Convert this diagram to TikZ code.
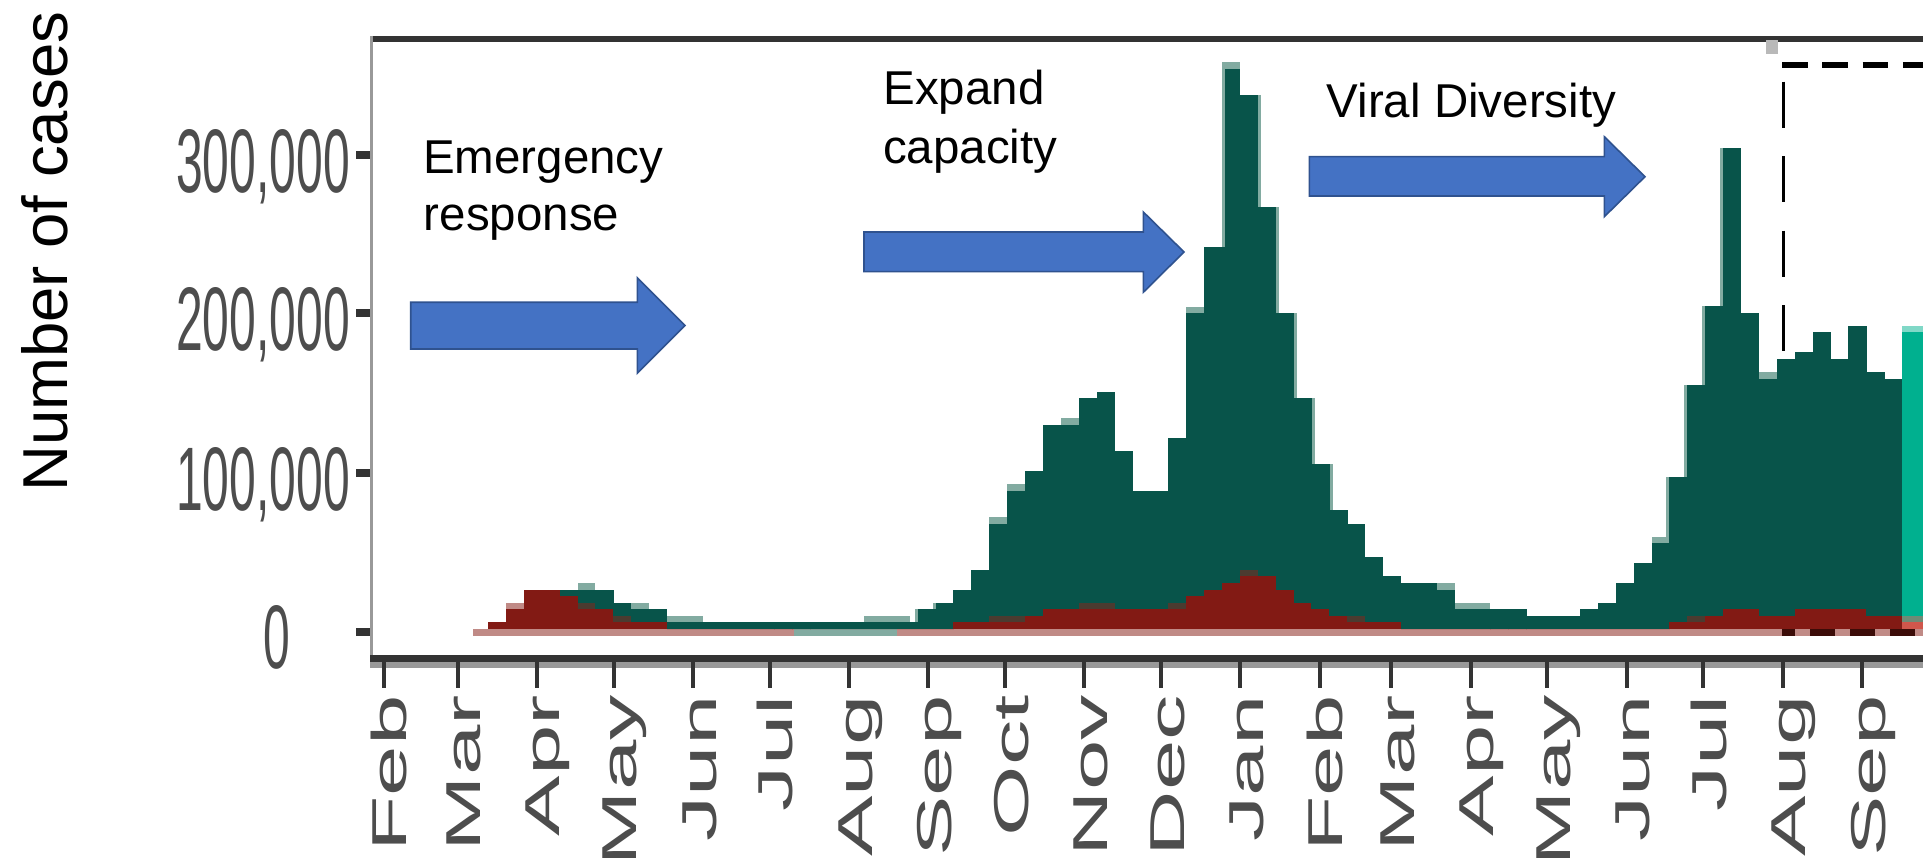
\documentclass[tikz,border=0pt]{standalone}
\usepackage{graphicx}
\usepackage{fontspec}
\setmainfont{Liberation Sans}

\definecolor{cgreen}{HTML}{08544A}
\definecolor{cteal}{HTML}{82ABA1}
\definecolor{cred}{HTML}{821A14}
\definecolor{cpink}{HTML}{C08A86}
\definecolor{cbrown}{HTML}{4B3B30}
\definecolor{cbright}{HTML}{00B08F}
\definecolor{cbrightlt}{HTML}{80D8C7}
\definecolor{cmix}{HTML}{6E8B76}
\definecolor{credlt}{HTML}{D0574C}
\definecolor{cblue}{HTML}{4472C4}
\definecolor{cblueline}{HTML}{2F528F}
\definecolor{axisdark}{HTML}{333333}
\definecolor{axisgray}{HTML}{999999}
\definecolor{ticktext}{HTML}{4D4D4D}
\definecolor{dashred}{HTML}{3C0C08}

\begin{document}
\begin{tikzpicture}[x=1pt,y=-1pt,
  blockarrow/.style={fill=cblue,draw=cblueline,line width=1.6pt,line join=miter},
  note/.style={anchor=base west,inner sep=0pt,font=\fontsize{47.5pt}{57.5pt}\selectfont},
  ylab/.style={anchor=base,inner sep=0pt,text=ticktext,font=\fontsize{48pt}{48pt}\selectfont},
  mlab/.style={anchor=base east,inner sep=0pt,rotate=90,text=ticktext,font=\fontsize{49pt}{49pt}\selectfont},
  xtick/.style={draw=axisdark,line width=4pt},
  ytick/.style={draw=axisdark,line width=8pt},
]
\useasboundingbox (0,0) rectangle (1923,858);
\clip (0,0) rectangle (1923,858);
\fill[white] (0,0) rectangle (1923,858);

% zero-level band under the bars
\fill[cpink] (472.7,629) rectangle (1923,636);
\fill[cteal] (794,629) rectangle (897.3,636);

% dashed window on the most recent weeks (sits behind the bars)
\draw[black,line width=6pt,dash pattern=on 25.5pt off 14.8pt] (1782,65) -- (1935,65);
\draw[black,line width=3pt,dash pattern=on 46pt off 28.5pt] (1783.5,81.7) -- (1783.5,632);
\draw[dashred,line width=7pt,dash pattern=on 25pt off 15pt,dash phase=12pt] (1782,632.5) -- (1935,632.5);

% weekly stacked bars: index / top of green / top of red
\foreach \k/\g/\r in {
  0/622/622, 1/609/609, 2/590/590, 3/590/590, 4/590/596, 5/590/609,
  6/590/609, 7/603/622, 8/609/622, 9/609/622,
  10/622/629, 11/622/629, 12/622/629, 13/622/629, 14/622/629, 15/622/629,
  16/622/629, 17/622/629, 18/622/629, 19/622/629, 20/622/629, 21/622/629,
  22/622/629, 23/622/629, 24/609/629, 25/603/629,
  26/590/622, 27/570/622, 28/524/622, 29/491/622, 30/471/616, 31/425/609,
  32/425/609, 33/398/609, 34/392/609, 35/451/609, 36/491/609, 37/491/609,
  38/438/609, 39/313/596, 40/247/590, 41/69/583, 42/95/576, 43/207/576,
  44/313/590, 45/398/603, 46/464/609, 47/510/616, 48/524/622, 49/557/622,
  50/576/622, 51/583/629, 52/583/629, 53/590/629, 54/609/629, 55/609/629,
  56/609/629, 57/609/629, 58/616/629, 59/616/629, 60/616/629, 61/609/629,
  62/603/629, 63/583/629, 64/563/629, 65/543/629, 66/477/622, 67/385/622,
  68/306/616, 69/148/609, 70/313/609, 71/379/616, 72/359/616, 73/352/609,
  74/332/609, 75/359/609, 76/326/609, 77/372/616, 78/379/616}{
  \fill[cgreen] ({488+17.9*\k},\g) rectangle ({506.2+17.9*\k},629);
  \fill[cred] ({488+17.9*\k},\r) rectangle ({506.2+17.9*\k},629);
}
% last, partial week
\fill[cbright] (1902.1,332) rectangle (1923,616);
\fill[cbrightlt] (1902.1,326) rectangle (1923,332);
\fill[cmix] (1902.1,616) rectangle (1923,622);
\fill[credlt] (1902.1,622) rectangle (1923,629);

% lighter layer showing above some bars: first / last index, top, bottom
\foreach \a/\b/\t/\u in {5/5/583/590, 8/8/603/609, 10/11/616/622,
  28/28/517/524, 29/29/484/491, 32/32/418/425, 39/39/307/313, 41/41/62/69,
  53/53/583/590, 54/55/603/609, 65/65/537/543, 71/71/372/379}{
  \fill[cteal] ({488+17.9*\a},\t) rectangle ({505.9+17.9*\b},\u);
}
\fill[cteal] (863.9,616) rectangle (910,622);
% lighter layer along the sides of steps
\foreach \xa/\xb/\t/\u in {914.6/917.6/609/622, 932.5/935.5/603/609,
  1221.9/1225.2/62/247, 1257.9/1260.9/95/207, 1275.8/1278.8/207/313,
  1293.7/1297/313/398, 1311.6/1315/398/464, 1329.5/1332.5/464/510,
  1666.4/1669.4/477/543, 1684.3/1687.3/385/477, 1702.2/1705.2/306/385,
  1720.1/1723.1/148/306}{
  \fill[cteal] (\xa,\t) rectangle (\xb,\u);
}
% darker overlap where both layers meet
\foreach \a/\b/\t/\u in {5/5/603/609, 7/7/616/622, 28/29/616/622,
  33/34/603/609, 38/38/603/609, 42/42/570/576, 48/48/616/622, 67/67/616/622}{
  \fill[cbrown] ({488+17.9*\a},\t) rectangle ({505.9+17.9*\b},\u);
}
\fill[cpink] (505.9,603) rectangle (523.8,609);

% panel frame and axes
\draw[axisdark,line width=6pt] (370,39) -- (1923,39);
\draw[axisgray,line width=3pt] (371.5,36) -- (371.5,658);
\fill[axisdark] (370,655) rectangle (1923,662);
\fill[axisgray] (370,662) rectangle (1923,668);
\fill[gray!55] (1766,40) rectangle (1778,54);

% y axis ticks and labels
\foreach \t in {155.5,313.5,473,632}{
  \draw[ytick] (356,\t) -- (370,\t);
}
\node[ylab] (y300) at (263,192.5) {\scalebox{1}[1.88]{300,000}};
\node[ylab] (y200) at (263,350.5) {\scalebox{1}[1.88]{200,000}};
\node[ylab] (y100) at (263,510) {\scalebox{1}[1.88]{100,000}};
\node[ylab] (y0) at (277,668) {\scalebox{1}[1.88]{0}};

% x axis ticks and month labels (day offsets from 1 February)
\foreach \d/\m in {0/Feb,29/Mar,60/Apr,90/May,121/Jun,151/Jul,182/Aug,213/Sep,
  243/Oct,274/Nov,304/Dec,335/Jan,366/Feb,394/Mar,425/Apr,455/May,486/Jun,
  516/Jul,547/Aug,578/Sep}{
  \draw[xtick] ({383.5+2.558*\d},662) -- ({383.5+2.558*\d},688);
  \node[mlab] (m\d) at ({406.5+2.558*\d},695) {\scalebox{1.85}[1]{\m}};
}

% axis title
\node[rotate=90,anchor=base west,inner sep=0pt,font=\fontsize{63.5pt}{63.5pt}\selectfont]
  (ytitle) at (67,492) {Number of cases};

% phase arrows
\draw[blockarrow] (410.7,302.3) -- (637.3,302.3) -- (637.3,277.7) -- (685,325.5)
  -- (637.3,373.3) -- (637.3,349) -- (410.7,349) -- cycle;
\draw[blockarrow] (864,232) -- (1143.3,232) -- (1143.3,212) -- (1184,252)
  -- (1143.3,292.3) -- (1143.3,271.7) -- (864,271.7) -- cycle;
\draw[blockarrow] (1309.3,156.7) -- (1604.3,156.7) -- (1604.3,136.7) -- (1645,176.7)
  -- (1604.3,216.7) -- (1604.3,196) -- (1309.3,196) -- cycle;

% phase labels
\node[note] (em1) at (423,173.3) {Emergency};
\node[note] (em2) at (423.6,230.7) {response};
\node[note] (ex1) at (883.3,105) {Expand};
\node[note] (ex2) at (883,163.3) {capacity};
\node[note] (vd) at (1326.5,117.3) {Viral Diversity};
\end{tikzpicture}
\end{document}
